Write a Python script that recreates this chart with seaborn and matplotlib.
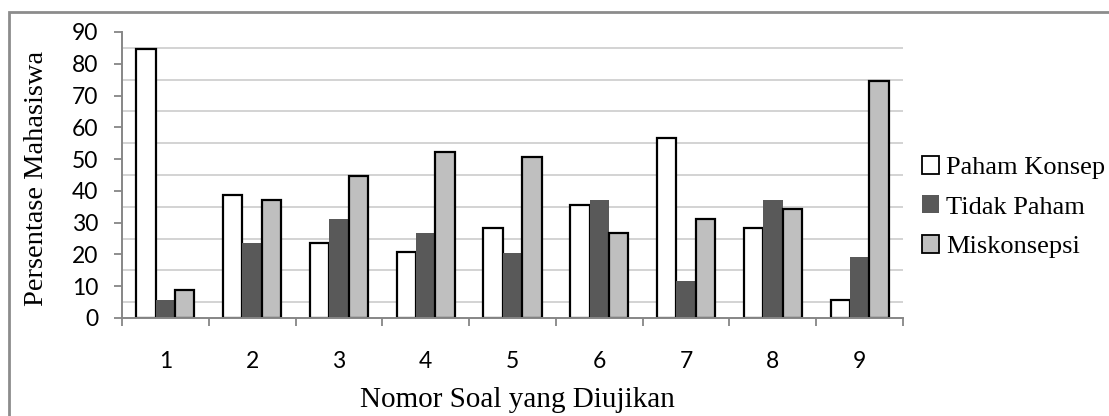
import matplotlib
matplotlib.use("Agg")
import matplotlib.pyplot as plt
import numpy as np
import pandas as pd
import seaborn as sns
from matplotlib.patches import Patch, Rectangle

# data
soal = ["1", "2", "3", "4", "5", "6", "7", "8", "9"]
paham_konsep = [84.8, 38.6, 23.6, 20.8, 28.3, 35.7, 56.6, 28.3, 5.8]
tidak_paham = [5.6, 23.5, 31.0, 26.6, 20.6, 37.1, 11.6, 37.1, 19.1]
miskonsepsi = [8.7, 37.1, 44.6, 52.1, 50.7, 26.8, 31.1, 34.2, 74.6]
kategori = ["Paham Konsep", "Tidak Paham", "Miskonsepsi"]
warna = ["#ffffff", "#595959", "#bfbfbf"]

df = pd.DataFrame({
    "Soal": soal * 3,
    "Kategori": [k for k in kategori for _ in soal],
    "Persentase": paham_konsep + tidak_paham + miskonsepsi,
})

sns.set_theme(style="white")
plt.rcParams["font.family"] = ["Lato", "DejaVu Sans"]
plt.rcParams["text.color"] = "black"

W, H = 1109, 416
fig = plt.figure(figsize=(W / 100, H / 100), dpi=100)
ax = fig.add_axes([122 / W, 1 - 318 / H, 781 / W, 286 / H])

sns.barplot(data=df, x="Soal", y="Persentase", hue="Kategori",
            order=soal, hue_order=kategori, palette=warna, saturation=1,
            width=0.67, gap=0, errorbar=None, legend=False, ax=ax)

# outlines: black for white and light bars, none for dark bars
for i, cont in enumerate(ax.containers):
    for bar in cont:
        if i == 1:
            bar.set_edgecolor("none")
        else:
            bar.set_edgecolor("black")
            bar.set_linewidth(1.6)

grey = "#868686"
ax.set_ylim(0, 90)
ax.set_xlim(-0.5, len(soal) - 0.5)
ax.set_yticks(np.arange(0, 91, 10))
ax.set_yticks(np.arange(5, 90, 10), minor=True)
ax.set_xticks(np.arange(-0.5, len(soal), 1), minor=True)
ax.set_axisbelow(True)
ax.grid(False)
ax.grid(which="minor", axis="y", color="#c8c8c8", lw=1.1)

for s in ["top", "right"]:
    ax.spines[s].set_visible(False)
for s in ["left", "bottom"]:
    ax.spines[s].set_color(grey)
    ax.spines[s].set_linewidth(1.4)

ax.tick_params(axis="y", which="major", length=6, width=1.3, color=grey,
               direction="out", pad=11, labelsize=16.5, labelcolor="black",
               left=True)
ax.tick_params(axis="y", which="minor", length=0)
ax.tick_params(axis="x", which="major", length=0, pad=24, labelsize=16.5,
               labelcolor="black")
ax.tick_params(axis="x", which="minor", length=6, width=1.3, color=grey,
               direction="out", bottom=True)
ax.set_xlabel("")
ax.set_ylabel("")

serif = ["Liberation Serif", "DejaVu Serif"]
fig.text(37 / W, 1 - 178 / H, "Persentase Mahasiswa", rotation=90,
         ha="center", va="center", fontsize=20.5, family=serif)
fig.text(517 / W, 1 - 400 / H, "Nomor Soal yang Diujikan",
         ha="center", va="center", fontsize=21, family=serif)

handles = [Patch(facecolor=warna[0], edgecolor="black", lw=1.3),
           Patch(facecolor=warna[1], edgecolor="none"),
           Patch(facecolor=warna[2], edgecolor="black", lw=1.3)]
fig.legend(handles, kategori, loc="center left",
           bbox_to_anchor=(922 / W, 1 - 207 / H), frameon=False,
           prop={"family": serif, "size": 19}, handlelength=0.65,
           handleheight=0.65, handletextpad=0.25, labelspacing=0.62,
           borderpad=0, borderaxespad=0)

# grey outer frame of the chart area
fig.patches.append(Rectangle((9 / W, -0.1), 1.2, 1.1 - 12 / H, fill=False,
                             edgecolor="#8c8c8c", lw=2,
                             transform=fig.transFigure, figure=fig))

fig.savefig("out.png", dpi=100)
